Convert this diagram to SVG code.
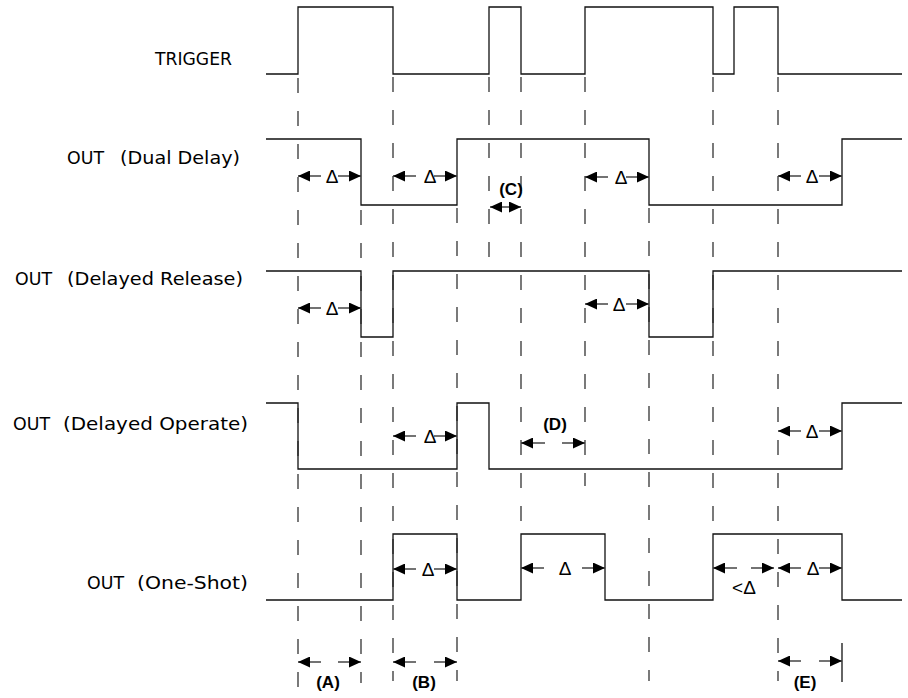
<svg xmlns="http://www.w3.org/2000/svg" width="908" height="698" viewBox="0 0 908 698">
<style>
.bg{fill:#ffffff}
.wave{fill:none;stroke:#111;stroke-width:1.3}
.dash{fill:none;stroke:#222;stroke-width:1.2;stroke-dasharray:15 18}
.tick{fill:none;stroke:#111;stroke-width:1.3}
.dim{fill:none;stroke:#444;stroke-width:1.5;marker-end:url(#ah)}
.lbl{font-family:"DejaVu Sans",Verdana,sans-serif;font-size:17.5px;fill:#000}
.d{font-family:"Liberation Sans",Arial,sans-serif;font-size:19px;fill:#000;text-anchor:middle}
.b{font-family:"Liberation Sans",Arial,sans-serif;font-size:17px;font-weight:bold;fill:#000;text-anchor:middle}
</style>
<defs>
<marker id="ah" viewBox="0 0 12 11" refX="12" refY="5.5" markerWidth="12" markerHeight="11" markerUnits="userSpaceOnUse" orient="auto">
<path d="M0,0 L12,5.5 L0,11 Z" fill="#000"/>
</marker>
</defs>
<rect class="bg" x="0" y="0" width="908" height="698"/>

<g id="trigger">
<text class="lbl" x="155" y="65" textLength="77" lengthAdjust="spacingAndGlyphs">TRIGGER</text>
<path class="wave" d="M266,74 H298 V7 H393 V74 H489 V7 H521 V74 H585 V7 H713 V74 H734 V7 H778 V74 H902"/>
</g>

<g id="out-dual-delay">
<text class="lbl" x="67" y="164" textLength="37" lengthAdjust="spacingAndGlyphs">OUT</text>
<text class="lbl" x="120" y="164" textLength="120" lengthAdjust="spacingAndGlyphs">(Dual Delay)</text>
<path class="wave" d="M266,139 H361 V205 H457 V139 H649 V205 H842 V139 H902"/>
</g>

<g id="out-delayed-release">
<text class="lbl" x="15" y="285" textLength="37" lengthAdjust="spacingAndGlyphs">OUT</text>
<text class="lbl" x="67" y="285" textLength="176" lengthAdjust="spacingAndGlyphs">(Delayed Release)</text>
<path class="wave" d="M266,271 H361 V337 H393 V271 H649 V337 H713 V271 H902"/>
</g>

<g id="out-delayed-operate">
<text class="lbl" x="13" y="430" textLength="37" lengthAdjust="spacingAndGlyphs">OUT</text>
<text class="lbl" x="63" y="430" textLength="185" lengthAdjust="spacingAndGlyphs">(Delayed Operate)</text>
<path class="wave" d="M266,403 H298 V469 H457 V403 H489 V469 H842 V403 H902"/>
</g>

<g id="out-one-shot">
<text class="lbl" x="87" y="589" textLength="37" lengthAdjust="spacingAndGlyphs">OUT</text>
<text class="lbl" x="137" y="589" textLength="111" lengthAdjust="spacingAndGlyphs">(One-Shot)</text>
<path class="wave" d="M266,600 H393 V534 H457 V600 H521 V534 H605 V600 H713 V534 H842 V600 H902"/>
</g>

<g id="connectors">
<!-- dashed time markers -->
<path class="dash" d="M298,78 V688"/>
<path class="dash" d="M361,210 V683"/>
<path class="dash" d="M393,77 V681"/>
<path class="dash" d="M457,208 V681"/>
<path class="dash" d="M489,77 V268"/>
<path class="dash" d="M521,77 V526"/>
<path class="dash" d="M585,77 V486"/>
<path class="dash" d="M649,208 V681"/>
<path class="dash" d="M713,77 V533"/>
<path class="dash" d="M778,77 V681"/>
<path class="tick" d="M842,643 V682"/>

<!-- Dual Delay -->
<path class="dim" d="M321,176 H298"/><path class="dim" d="M338,176 H361"/>
<path class="dim" d="M416,176 H393"/><path class="dim" d="M434,176 H457"/>
<path class="dim" d="M608,177 H585"/><path class="dim" d="M626,177 H649"/>
<path class="dim" d="M801,176 H778"/><path class="dim" d="M819,176 H842"/>
<path class="dim" d="M505,207 H490"/><path class="dim" d="M505,207 H521"/>

<!-- Delayed Release -->
<path class="dim" d="M321,308 H298"/><path class="dim" d="M338,308 H361"/>
<path class="dim" d="M608,304 H585"/><path class="dim" d="M626,304 H649"/>

<!-- Delayed Operate -->
<path class="dim" d="M416,436 H393"/><path class="dim" d="M434,436 H457"/>
<path class="dim" d="M545,443 H521"/><path class="dim" d="M562,443 H585"/>
<path class="dim" d="M801,431 H778"/><path class="dim" d="M819,431 H842"/>

<!-- One-Shot -->
<path class="dim" d="M416,569 H393"/><path class="dim" d="M434,569 H457"/>
<path class="dim" d="M544,568 H521"/><path class="dim" d="M582,568 H605"/>
<path class="dim" d="M737,568 H713"/><path class="dim" d="M751,568 H774"/>
<path class="dim" d="M801,568 H778"/><path class="dim" d="M819,568 H842"/>

<!-- bottom -->
<path class="dim" d="M321,662 H298"/><path class="dim" d="M338,662 H361"/>
<path class="dim" d="M416,662 H393"/><path class="dim" d="M434,662 H457"/>
<path class="dim" d="M801,661 H778"/><path class="dim" d="M819,661 H842"/>

<!-- labels -->
<text class="d" x="332" y="183">Δ</text>
<text class="d" x="430" y="183">Δ</text>
<text class="d" x="621" y="184">Δ</text>
<text class="d" x="812" y="183">Δ</text>
<text class="b" x="511" y="195">(C)</text>
<text class="d" x="332" y="315">Δ</text>
<text class="d" x="619" y="311">Δ</text>
<text class="d" x="430" y="443">Δ</text>
<text class="b" x="555" y="430">(D)</text>
<text class="d" x="812" y="438">Δ</text>
<text class="d" x="428" y="576">Δ</text>
<text class="d" x="565" y="575">Δ</text>
<text class="d" x="744" y="594">&lt;Δ</text>
<text class="d" x="813" y="575">Δ</text>
<text class="b" x="328" y="688">(A)</text>
<text class="b" x="424" y="688">(B)</text>
<text class="b" x="805" y="688">(E)</text>
</g>
</svg>
